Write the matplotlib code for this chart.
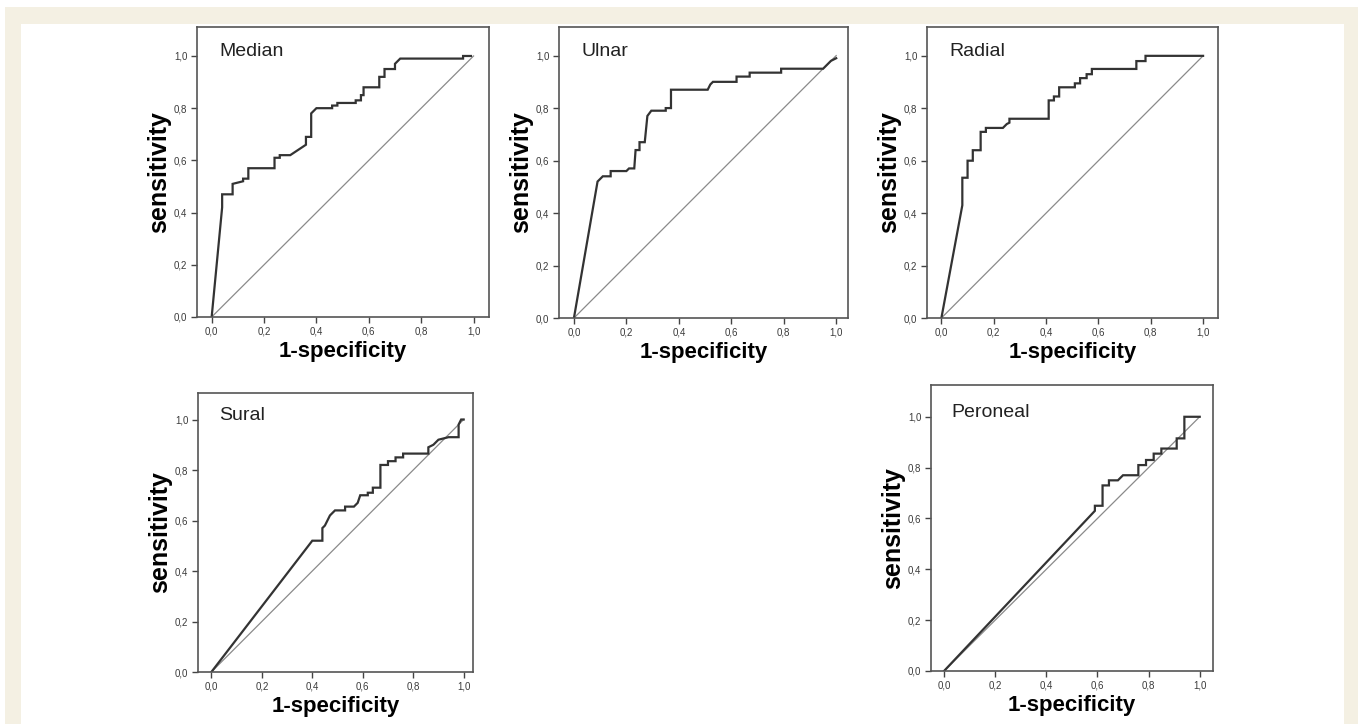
import matplotlib
matplotlib.use("Agg")
import matplotlib.pyplot as plt
from matplotlib.patches import Rectangle
from matplotlib.ticker import FuncFormatter

plt.rcParams["font.family"] = ["Liberation Sans", "DejaVu Sans"]

# ROC step curves (1-specificity, sensitivity)
median_fpr = [0.0, 0.04, 0.04, 0.08, 0.08, 0.12, 0.12, 0.14, 0.14, 0.24, 0.24, 0.26, 0.26,
              0.30, 0.33, 0.36, 0.36, 0.38, 0.38, 0.40, 0.46, 0.46, 0.48, 0.48, 0.55, 0.55,
              0.57, 0.57, 0.58, 0.58, 0.64, 0.64, 0.66, 0.66, 0.70, 0.70, 0.72, 0.96, 0.96, 0.99]
median_tpr = [0.0, 0.42, 0.47, 0.47, 0.51, 0.52, 0.53, 0.53, 0.57, 0.57, 0.61, 0.61, 0.62,
              0.62, 0.64, 0.66, 0.69, 0.69, 0.78, 0.80, 0.80, 0.81, 0.81, 0.82, 0.82, 0.83,
              0.83, 0.85, 0.85, 0.88, 0.88, 0.92, 0.92, 0.95, 0.95, 0.97, 0.99, 0.99, 1.0, 1.0]

ulnar_fpr = [0.0, 0.09, 0.11, 0.14, 0.14, 0.20, 0.21, 0.23, 0.235, 0.25, 0.25, 0.27, 0.28,
             0.295, 0.35, 0.35, 0.37, 0.37, 0.51, 0.52, 0.53, 0.62, 0.62, 0.67, 0.67, 0.79,
             0.79, 0.95, 0.97, 0.98, 1.0]
ulnar_tpr = [0.0, 0.52, 0.54, 0.54, 0.56, 0.56, 0.57, 0.57, 0.64, 0.64, 0.67, 0.67, 0.77,
             0.79, 0.79, 0.80, 0.80, 0.87, 0.87, 0.89, 0.90, 0.90, 0.92, 0.92, 0.935, 0.935,
             0.95, 0.95, 0.97, 0.98, 0.99]

radial_fpr = [0.0, 0.08, 0.08, 0.10, 0.10, 0.12, 0.12, 0.15, 0.15, 0.17, 0.17, 0.235, 0.25,
              0.26, 0.26, 0.41, 0.41, 0.43, 0.43, 0.45, 0.45, 0.51, 0.51, 0.53, 0.53, 0.555,
              0.555, 0.575, 0.575, 0.745, 0.745, 0.78, 0.78, 1.0]
radial_tpr = [0.0, 0.43, 0.535, 0.535, 0.60, 0.60, 0.64, 0.64, 0.71, 0.71, 0.725, 0.725, 0.74,
              0.745, 0.76, 0.76, 0.83, 0.83, 0.845, 0.845, 0.88, 0.88, 0.895, 0.895, 0.915,
              0.915, 0.93, 0.93, 0.95, 0.95, 0.98, 0.98, 1.0, 1.0]

sural_fpr = [0.0, 0.40, 0.44, 0.44, 0.45, 0.47, 0.49, 0.53, 0.53, 0.565, 0.58, 0.59, 0.62,
             0.62, 0.64, 0.64, 0.67, 0.67, 0.70, 0.70, 0.73, 0.73, 0.76, 0.76, 0.86, 0.86,
             0.88, 0.90, 0.94, 0.98, 0.98, 0.99, 1.0]
sural_tpr = [0.0, 0.52, 0.52, 0.57, 0.58, 0.62, 0.64, 0.64, 0.655, 0.655, 0.67, 0.70, 0.70,
             0.71, 0.71, 0.73, 0.73, 0.82, 0.82, 0.835, 0.835, 0.85, 0.85, 0.865, 0.865, 0.89,
             0.90, 0.92, 0.93, 0.93, 0.98, 1.0, 1.0]

peroneal_fpr = [0.0, 0.59, 0.59, 0.62, 0.62, 0.645, 0.645, 0.68, 0.70, 0.76, 0.76, 0.79, 0.79,
                0.82, 0.82, 0.85, 0.85, 0.91, 0.91, 0.94, 0.94, 1.0]
peroneal_tpr = [0.0, 0.63, 0.65, 0.65, 0.73, 0.73, 0.75, 0.75, 0.77, 0.77, 0.81, 0.81, 0.83,
                0.83, 0.855, 0.855, 0.875, 0.875, 0.915, 0.915, 1.0, 1.0]

panel_names = ["Median", "Ulnar", "Radial", "Sural", "Peroneal"]
panel_fpr = [median_fpr, ulnar_fpr, radial_fpr, sural_fpr, peroneal_fpr]
panel_tpr = [median_tpr, ulnar_tpr, radial_tpr, sural_tpr, peroneal_tpr]
tick_values = [0.0, 0.2, 0.4, 0.6, 0.8, 1.0]

# pixel layout: spine box (left, top, right, bottom) and axis limits
W, H = 1358, 724
layout = [
    ((197, 27, 489, 317), (-0.056, 1.059), (0, 1.111)),
    ((559, 27, 848, 318), (-0.057, 1.045), (0, 1.109)),
    ((927, 27, 1218, 318), (-0.055, 1.057), (0, 1.110)),
    ((198, 393, 473, 672), (-0.053, 1.037), (0, 1.105)),
    ((931, 385, 1213, 671), (-0.051, 1.052), (0, 1.125)),
]

fig = plt.figure(figsize=(W / 100, H / 100), dpi=100, facecolor="white")
fig.patches.append(Rectangle((5 / W, 0), 1 - 5 / W, 1 - 7 / H, transform=fig.transFigure,
                             facecolor="#f4f0e3", edgecolor="none", zorder=-2))
fig.patches.append(Rectangle((21 / W, 0), (1344 - 21) / W, 1 - 24 / H, transform=fig.transFigure,
                             facecolor="white", edgecolor="none", zorder=-1))

comma = FuncFormatter(lambda v, p: f"{v:.1f}".replace(".", ","))

for name, fpr, tpr, (box, xl, yl) in zip(panel_names, panel_fpr, panel_tpr, layout):
    l, t, r, b = box
    ax = fig.add_axes([l / W, 1 - b / H, (r - l) / W, (b - t) / H])
    ax.plot([0, 1], [0, 1], color="#8a8a8a", lw=0.9)
    ax.plot(fpr, tpr, color="#333333", lw=1.6, solid_joinstyle="miter")
    ax.set_xlim(*xl)
    ax.set_ylim(*yl)
    ax.set_xticks(tick_values)
    ax.set_yticks(tick_values)
    ax.xaxis.set_major_formatter(comma)
    ax.yaxis.set_major_formatter(comma)
    ax.tick_params(direction="out", length=4, width=1, color="#444444",
                   labelsize=7, labelcolor="#3a3a3a", pad=3)
    for s in ax.spines.values():
        s.set_color("#555555")
        s.set_linewidth(1.2)
    ax.text(0.03, 1.0, name, fontsize=14, color="#222222", va="baseline", ha="left")
    ax.set_xlabel("1-specificity", fontsize=16, fontweight="bold", labelpad=3)
    ax.set_ylabel("sensitivity", fontsize=18, fontweight="bold", labelpad=2)

fig.savefig("out.png", dpi=100, facecolor=fig.get_facecolor())
